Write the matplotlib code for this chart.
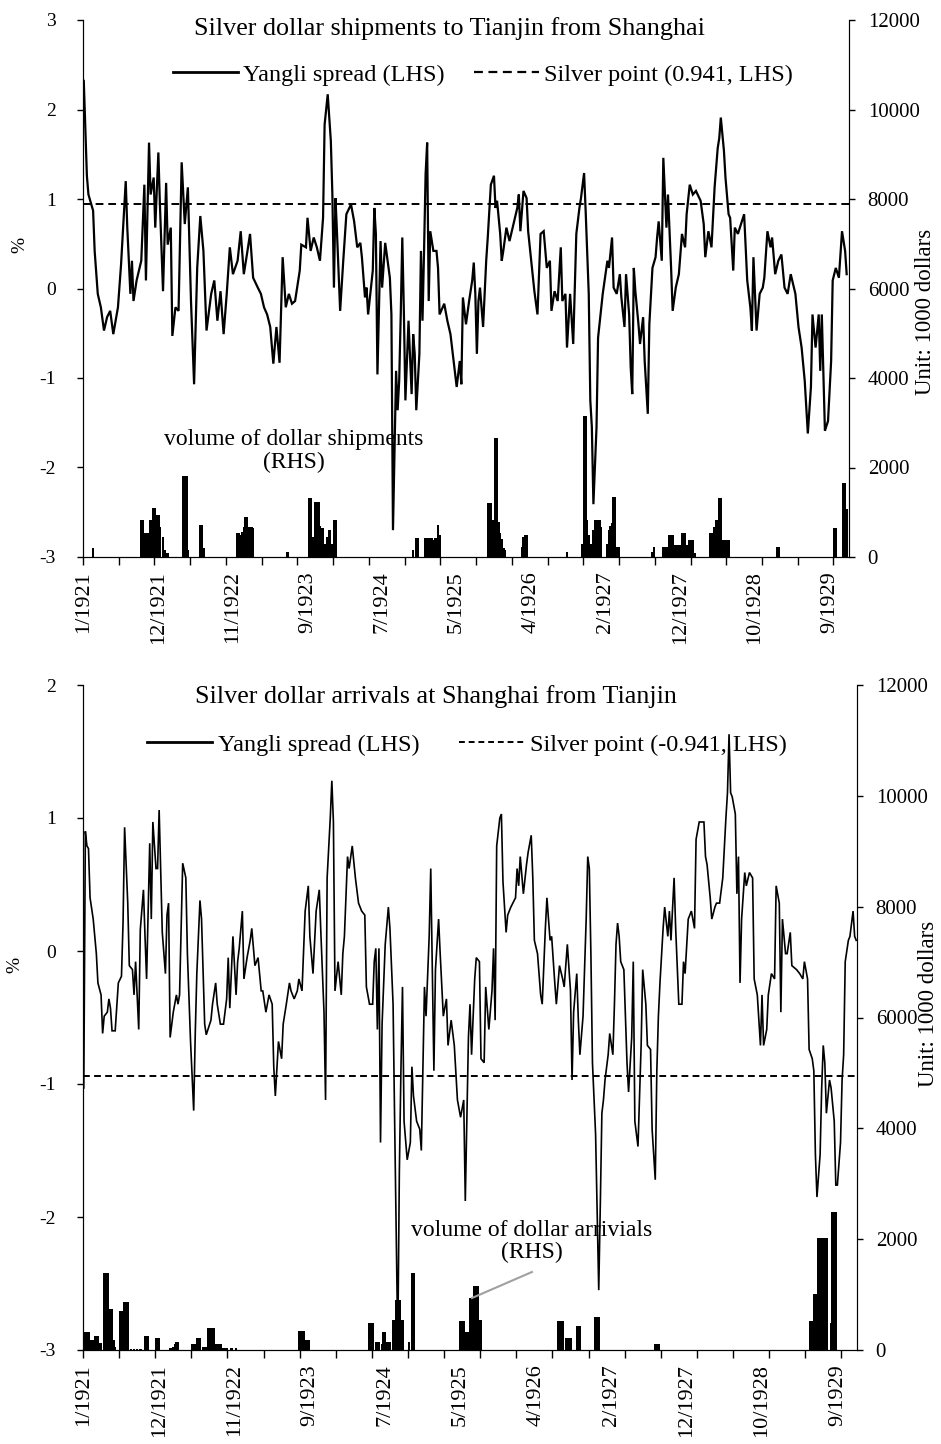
import matplotlib.pyplot as plt
from matplotlib.lines import Line2D

plt.rcParams['font.family'] = ['Liberation Serif', 'DejaVu Serif']
plt.rcParams['axes.unicode_minus'] = False

# x axis: 493 observations, a date label every 48, a tick mark every 23
n_obs = 493
label_step = 48
tick_step = 23
date_labels = ["1/1921", "12/1921", "11/1922", "9/1923", "7/1924", "5/1925",
               "4/1926", "2/1927", "12/1927", "10/1928", "9/1929"]

silver_point = 0.941

# top panel: Yangli spread (%), (observation, value)
ship_spread = [
    (0, 2.32), (2, 1.26), (3, 1.05), (6, 0.87), (7, 0.42), (9, -0.06), (11, -0.21), (13, -0.47),
    (15, -0.32), (17, -0.25), (19, -0.51), (22, -0.21), (24, 0.27), (27, 1.20), (28, 0.68),
    (30, -0.06), (31, 0.31), (32, -0.14), (34, 0.09), (37, 0.31), (39, 1.16), (40, 0.09),
    (42, 1.63), (43, 1.05), (45, 1.24), (46, 0.68), (48, 1.52), (49, 0.94), (51, -0.03),
    (53, 1.18), (54, 0.49), (56, 0.68), (57, -0.53), (59, -0.21), (61, -0.25), (63, 1.41),
    (65, 0.72), (67, 1.13), (69, -0.14), (71, -1.07), (73, 0.23), (75, 0.81), (77, 0.42),
    (79, -0.47), (82, -0.06), (84, 0.09), (86, -0.36), (88, -0.03), (90, -0.51), (92, -0.06),
    (94, 0.46), (96, 0.16), (99, 0.31), (101, 0.64), (103, 0.16), (105, 0.38), (107, 0.61),
    (109, 0.12), (112, 0.01), (114, -0.06), (116, -0.21), (118, -0.29), (120, -0.43),
    (122, -0.84), (124, -0.43), (126, -0.83), (128, 0.35), (130, -0.21), (132, -0.06),
    (134, -0.17), (136, -0.14), (139, 0.20), (140, 0.49), (143, 0.46), (144, 0.79), (146, 0.42),
    (148, 0.57), (150, 0.46), (152, 0.31), (154, 0.79), (155, 1.83), (157, 2.17), (159, 1.65),
    (160, 1.05), (161, 0.01), (162, 1.01), (163, 0.61), (165, -0.25), (167, 0.31), (169, 0.83),
    (172, 0.94), (174, 0.75), (176, 0.46), (178, 0.51), (179, 0.35), (181, -0.10), (182, 0.01),
    (183, -0.29), (186, 0.20), (187, 0.90), (188, 0.61), (189, -0.96), (191, 0.53), (192, 0.01),
    (194, 0.51), (195, 0.38), (197, 0.12), (198, -0.29), (199, -2.70), (201, -0.92),
    (202, -1.36), (203, -1.03), (204, -0.29), (205, 0.57), (206, -0.25), (207, -1.25),
    (209, -0.36), (211, -1.18), (212, -0.51), (213, -0.73), (214, -1.36), (216, -0.73),
    (217, 0.42), (218, -0.36), (219, 0.42), (220, 1.28), (221, 1.63), (222, -0.14), (223, 0.64),
    (225, 0.42), (227, 0.42), (228, 0.23), (229, -0.29), (232, -0.17), (234, -0.36),
    (236, -0.51), (238, -0.81), (240, -1.10), (242, -0.81), (243, -1.07), (244, -0.10),
    (246, -0.40), (248, -0.14), (250, 0.09), (251, 0.29), (252, -0.06), (253, -0.73),
    (254, -0.14), (255, 0.01), (257, -0.43), (258, -0.06), (259, 0.31), (260, 0.57), (262, 1.16),
    (264, 1.26), (265, 0.90), (266, 0.98), (268, 0.61), (269, 0.31), (270, 0.42), (272, 0.68),
    (274, 0.53), (277, 0.75), (279, 0.90), (280, 1.05), (281, 0.64), (283, 1.09), (285, 1.01),
    (286, 0.64), (288, 0.31), (290, -0.03), (292, -0.29), (294, 0.61), (296, 0.64), (298, 0.23),
    (300, 0.31), (301, -0.25), (303, -0.03), (305, -0.14), (307, 0.46), (308, -0.14),
    (310, -0.06), (311, -0.66), (313, -0.06), (315, -0.62), (317, 0.61), (319, 0.90), (320, 1.01),
    (322, 1.29), (323, 0.87), (325, -0.06), (326, -1.25), (327, -1.55), (328, -2.41),
    (330, -1.55), (331, -0.55), (334, -0.06), (337, 0.31), (338, 0.23), (340, 0.57), (341, 0.01),
    (343, -0.06), (345, 0.16), (346, -0.10), (348, -0.43), (349, 0.16), (351, -0.29),
    (352, -0.88), (353, -1.18), (354, 0.23), (355, -0.03), (357, -0.40), (358, -0.62),
    (360, -0.32), (361, -0.81), (363, -1.40), (364, -0.40), (366, 0.23), (368, 0.35), (369, 0.57),
    (370, 0.75), (372, 0.31), (373, 1.46), (375, 0.68), (376, 1.05), (378, 0.23), (379, -0.25),
    (381, 0.01), (383, 0.16), (385, 0.61), (387, 0.46), (388, 0.83), (390, 1.16), (392, 1.05),
    (394, 1.09), (397, 0.98), (399, 0.72), (400, 0.35), (402, 0.64), (404, 0.46), (406, 1.13),
    (408, 1.57), (409, 1.68), (410, 1.91), (412, 1.54), (413, 1.24), (415, 0.83), (416, 0.79),
    (418, 0.20), (419, 0.68), (421, 0.61), (423, 0.72), (425, 0.83), (427, 0.09), (429, -0.21),
    (430, -0.47), (431, 0.35), (433, -0.47), (435, -0.06), (437, 0.01), (438, 0.12), (440, 0.64),
    (442, 0.46), (443, 0.57), (445, 0.16), (447, 0.31), (449, 0.38), (451, 0.01), (453, -0.06),
    (455, 0.16), (458, -0.06), (460, -0.43), (462, -0.66), (464, -1.03), (466, -1.62),
    (468, -1.10), (469, -0.29), (471, -0.66), (473, -0.29), (474, -0.92), (475, -0.29),
    (477, -1.59), (479, -1.48), (481, -0.81), (482, 0.09), (484, 0.23), (486, 0.12), (488, 0.64),
    (490, 0.42), (491, 0.16),
]

# top panel: volume of dollar shipments (1000 dollars)
ship_volume = [
    (6, 200), (37, 830), (38, 830), (39, 530), (40, 530), (41, 530), (42, 530), (43, 830),
    (44, 830), (45, 1090), (46, 1090), (47, 940), (48, 940), (49, 680), (51, 450), (52, 150),
    (54, 80), (64, 1800), (65, 1800), (66, 1800), (67, 150), (75, 715), (76, 715), (77, 200),
    (99, 530), (100, 530), (101, 500), (102, 560), (103, 680), (104, 900), (105, 900),
    (106, 680), (107, 680), (108, 680), (109, 640), (131, 120), (145, 1310), (146, 1310),
    (147, 300), (148, 450), (149, 1240), (150, 1240), (151, 1240), (152, 700), (153, 640),
    (154, 640), (155, 300), (157, 450), (158, 600), (159, 300), (160, 300), (161, 830),
    (162, 830), (212, 160), (214, 420), (215, 420), (220, 420), (221, 420), (222, 420),
    (223, 420), (224, 420), (225, 380), (226, 420), (227, 420), (228, 715), (229, 500),
    (260, 1200), (261, 1200), (262, 1200), (263, 830), (264, 830), (265, 2650), (266, 2650),
    (267, 790), (268, 530), (269, 400), (270, 200), (271, 150), (282, 230), (283, 450),
    (284, 490), (285, 490), (311, 120), (321, 300), (322, 3140), (323, 3140), (324, 830),
    (325, 500), (326, 300), (327, 300), (328, 600), (329, 830), (330, 830), (331, 830),
    (332, 830), (333, 680), (337, 300), (338, 600), (339, 700), (340, 750), (341, 1350),
    (342, 1350), (343, 230), (344, 230), (366, 120), (367, 230), (373, 230), (375, 230),
    (377, 490), (378, 490), (379, 490), (380, 270), (381, 270), (382, 270), (383, 270),
    (384, 270), (385, 530), (386, 530), (387, 530), (388, 270), (390, 380), (391, 380),
    (392, 380), (393, 100), (403, 530), (404, 530), (405, 530), (406, 680), (407, 830),
    (408, 830), (409, 1310), (410, 1310), (411, 380), (412, 380), (413, 380), (414, 380),
    (415, 380), (446, 230), (447, 230), (483, 640), (484, 640), (489, 1650), (490, 1650),
    (491, 1070),
]

# bottom panel: Yangli spread (%)
arr_spread = [
    (0, -1.03), (1, 0.90), (2, 0.79), (3, 0.77), (4, 0.40), (6, 0.24), (8, -0.02), (9, -0.24),
    (11, -0.33), (12, -0.62), (13, -0.49), (15, -0.46), (16, -0.36), (17, -0.43), (18, -0.60),
    (20, -0.60), (22, -0.24), (24, -0.19), (25, 0.21), (26, 0.93), (28, 0.36), (29, -0.11),
    (31, -0.14), (32, -0.33), (33, -0.08), (35, -0.59), (36, 0.16), (38, 0.46), (39, 0.11),
    (40, -0.21), (42, 0.81), (43, 0.24), (44, 0.97), (46, 0.62), (47, 0.62), (48, 1.06),
    (50, 0.14), (52, -0.17), (53, 0.27), (54, 0.36), (55, -0.65), (57, -0.46), (59, -0.33),
    (60, -0.40), (61, -0.33), (63, 0.66), (65, 0.55), (66, -0.02), (68, -0.68), (70, -1.20),
    (71, -0.62), (72, -0.17), (74, 0.38), (75, 0.24), (77, -0.55), (78, -0.63), (81, -0.52),
    (82, -0.40), (84, -0.24), (85, -0.40), (87, -0.55), (89, -0.55), (91, -0.36), (92, -0.05),
    (93, -0.43), (95, 0.11), (97, -0.33), (98, -0.08), (99, 0.02), (101, 0.30), (102, -0.21),
    (104, -0.05), (106, 0.08), (107, 0.17), (109, -0.11), (111, -0.05), (113, -0.30),
    (114, -0.30), (116, -0.46), (118, -0.33), (120, -0.40), (121, -0.87), (122, -1.09),
    (124, -0.68), (126, -0.81), (127, -0.55), (129, -0.40), (131, -0.24), (132, -0.30),
    (134, -0.36), (136, -0.30), (137, -0.21), (139, -0.30), (141, 0.30), (143, 0.49),
    (144, 0.11), (146, -0.17), (148, 0.30), (150, 0.46), (151, 0.14), (153, -0.46), (154, -1.12),
    (155, 0.55), (157, 1.00), (158, 1.28), (159, 0.97), (160, -0.30), (162, -0.08), (164, -0.33),
    (165, -0.02), (166, 0.11), (168, 0.71), (169, 0.62), (171, 0.79), (173, 0.55), (175, 0.36),
    (177, 0.30), (179, 0.27), (180, -0.27), (182, -0.40), (184, -0.40), (185, -0.08), (186, 0.02),
    (187, -0.59), (188, 0.02), (189, -1.44), (190, -0.55), (192, 0.05), (194, 0.33), (195, 0.17),
    (197, -0.40), (198, -1.28), (200, -2.96), (201, -1.66), (202, -0.90), (203, -0.27),
    (204, -1.28), (206, -1.57), (208, -1.44), (209, -0.87), (210, -1.09), (212, -1.28),
    (214, -1.34), (215, -1.50), (217, -0.27), (218, -0.49), (220, 0.11), (221, 0.62),
    (223, -0.90), (224, -0.14), (226, 0.24), (227, -0.02), (229, -0.49), (231, -0.36),
    (232, -0.71), (234, -0.52), (236, -0.71), (238, -1.12), (240, -1.25), (242, -1.12),
    (243, -1.88), (245, -0.65), (246, -0.40), (247, -0.78), (249, -0.21), (250, -0.05),
    (252, -0.08), (253, -0.81), (255, -0.84), (256, -0.27), (258, -0.59), (260, -0.30),
    (261, 0.02), (262, -0.52), (263, 0.79), (265, 1.00), (266, 1.03), (267, 0.52), (269, 0.14),
    (270, 0.27), (272, 0.33), (275, 0.40), (276, 0.62), (277, 0.49), (278, 0.71), (280, 0.43),
    (282, 0.65), (283, 0.74), (285, 0.87), (286, 0.55), (287, 0.08), (289, -0.02), (291, -0.33),
    (292, -0.40), (294, 0.17), (295, 0.40), (297, 0.08), (298, 0.11), (300, -0.24), (301, -0.40),
    (303, -0.11), (305, -0.21), (306, -0.27), (308, 0.05), (310, -0.30), (311, -0.97),
    (312, -0.46), (314, -0.17), (315, -0.52), (316, -0.78), (318, -0.49), (320, 0.24),
    (321, 0.71), (322, 0.62), (323, -0.02), (324, -0.84), (326, -1.38), (328, -2.55),
    (329, -1.91), (330, -1.22), (331, -1.12), (332, -0.97), (334, -0.78), (335, -0.62),
    (337, -0.78), (338, -0.40), (339, 0.05), (340, 0.21), (341, 0.11), (342, -0.08), (344, -0.14),
    (346, -0.84), (347, -1.06), (349, -0.65), (350, -0.08), (351, -1.28), (353, -1.47),
    (355, -0.71), (356, -0.14), (358, -0.40), (359, -0.71), (361, -0.74), (362, -1.34),
    (364, -1.72), (365, -0.90), (366, -0.49), (367, -0.24), (369, 0.17), (370, 0.33), (372, 0.11),
    (373, 0.30), (374, 0.08), (376, 0.55), (377, 0.17), (379, -0.40), (381, -0.40), (382, -0.08),
    (383, -0.17), (385, 0.24), (386, 0.27), (387, 0.30), (389, 0.17), (390, 0.84), (392, 0.97),
    (394, 0.97), (395, 0.97), (396, 0.71), (397, 0.65), (399, 0.40), (400, 0.24), (402, 0.33),
    (403, 0.36), (405, 0.36), (407, 0.55), (409, 1.00), (410, 1.19), (411, 1.63), (412, 1.19),
    (413, 1.16), (415, 1.03), (416, 0.43), (417, 0.71), (418, -0.24), (419, 0.24), (421, 0.59),
    (422, 0.49), (424, 0.59), (426, 0.55), (427, -0.21), (429, -0.33), (431, -0.71), (432, -0.33),
    (433, -0.71), (435, -0.59), (436, -0.33), (438, -0.17), (440, -0.21), (441, 0.49), (443, 0.36),
    (444, -0.46), (445, 0.24), (447, -0.02), (448, -0.02), (450, 0.14), (451, -0.11), (454, -0.14),
    (456, -0.17), (458, -0.21), (459, -0.08), (461, -0.21), (462, -0.74), (464, -0.81),
    (465, -0.90), (466, -1.53), (467, -1.85), (469, -1.53), (470, -1.03), (471, -0.71),
    (472, -0.84), (473, -1.22), (475, -0.97), (476, -1.03), (478, -1.28), (479, -1.76),
    (480, -1.76), (482, -1.44), (483, -0.97), (484, -0.78), (485, -0.08), (487, 0.08), (488, 0.11),
    (490, 0.30), (491, 0.11), (492, 0.08),
]

# bottom panel: volume of dollar arrivals (1000 dollars)
arr_volume = [
    (0, 330), (1, 330), (2, 330), (3, 330), (4, 175), (5, 175), (6, 175), (7, 250), (8, 250),
    (9, 250), (10, 130), (11, 130), (13, 1390), (14, 1390), (15, 1390), (16, 740), (17, 740),
    (18, 740), (19, 175), (20, 60), (23, 705), (24, 705), (25, 705), (26, 860), (27, 860),
    (28, 860), (30, 25), (32, 25), (34, 25), (36, 25), (39, 250), (40, 250), (41, 250), (46, 210),
    (47, 210), (48, 210), (55, 40), (56, 40), (57, 60), (58, 100), (59, 140), (60, 140), (69, 100),
    (70, 100), (71, 100), (72, 210), (73, 210), (74, 210), (76, 60), (77, 60), (78, 60), (79, 400),
    (80, 400), (81, 400), (82, 400), (83, 400), (84, 100), (85, 100), (86, 100), (87, 100),
    (89, 40), (91, 40), (94, 40), (97, 40), (137, 350), (138, 350), (139, 350), (140, 350),
    (141, 175), (142, 175), (143, 175), (182, 480), (183, 480), (184, 480), (186, 140),
    (187, 140), (188, 140), (190, 100), (191, 330), (192, 330), (193, 140), (194, 140),
    (195, 140), (197, 550), (198, 550), (199, 900), (200, 900), (201, 900), (202, 550),
    (203, 550), (207, 140), (209, 1390), (210, 1390), (240, 520), (241, 520), (242, 520),
    (243, 330), (244, 330), (245, 330), (246, 930), (247, 930), (248, 930), (249, 1160),
    (250, 1160), (251, 1160), (252, 550), (253, 550), (302, 520), (303, 520), (304, 520),
    (305, 520), (307, 210), (308, 210), (309, 210), (310, 210), (314, 440), (315, 440),
    (316, 440), (326, 590), (327, 590), (328, 590), (364, 100), (365, 100), (366, 100),
    (463, 520), (464, 520), (465, 1010), (466, 1010), (467, 1010), (468, 2030), (469, 2030),
    (470, 2030), (471, 2030), (472, 2030), (473, 2030), (476, 480), (477, 2490), (478, 2490),
    (479, 2490),
]

fig = plt.figure(figsize=(9.41, 14.44), dpi=100)


def draw_panel(rect, spread, volume, level, ylo, yhi, line_w, dash):
    ax = fig.add_axes(rect)
    ax2 = ax.twinx()
    ax.set_zorder(ax2.get_zorder() + 1)
    ax.patch.set_visible(False)

    bx = [p[0] for p in volume]
    bv = [p[1] for p in volume]
    ax2.bar(bx, bv, width=1.6, color='black', linewidth=0)
    ax2.set_ylim(0, 12000)
    ax2.set_yticks(range(0, 12001, 2000))

    sx = [p[0] for p in spread]
    sy = [p[1] for p in spread]
    ax.plot(sx, sy, color='black', lw=line_w, solid_joinstyle='miter')
    ax.axhline(level, color='black', lw=1.4, dashes=dash)

    ax.set_xlim(-0.5, n_obs - 0.5)
    ax.set_ylim(ylo, yhi)
    ax.set_yticks(range(ylo, yhi + 1))
    ax.set_xticks(range(0, n_obs, label_step))
    ax.set_xticklabels(date_labels, rotation=90, fontsize=16)
    ax.set_xticks([k * tick_step - 0.5 for k in range(n_obs // tick_step + 1)], minor=True)
    ax.tick_params(axis='x', which='major', length=0, pad=10)
    ax.tick_params(axis='x', which='minor', length=6, width=1)
    ax.tick_params(axis='y', length=4.5, width=1, pad=15, labelsize=14)
    ax2.tick_params(axis='y', length=4.5, width=1, pad=9, labelsize=15)
    for a in (ax, ax2):
        a.spines['top'].set_visible(False)
    ax2.spines['right'].set_color('#444444')
    return ax, ax2


# ---- top panel: shipments to Tianjin from Shanghai
ax, ax2 = draw_panel([83 / 941, 1 - 557 / 1444, 766 / 941, 537 / 1444],
                     ship_spread, ship_volume, silver_point, -3, 3, 1.6, (4, 2.5))
ax.text(0.478, 0.985, "Silver dollar shipments to Tianjin from Shanghai",
        transform=ax.transAxes, ha='center', va='center', fontsize=18.8)
handles = [Line2D([], [], color='black', lw=2),
           Line2D([], [], color='black', lw=1.6, dashes=(4, 2.5))]
ax.legend(handles, ["Yangli spread (LHS)", "Silver point (0.941, LHS)"], ncol=2,
          loc='center', bbox_to_anchor=(0.522, 0.898), frameon=False, fontsize=17.5,
          handlelength=2.7, handletextpad=0.2, columnspacing=1.2)
ax.text(0.2755, 0.197, "volume of dollar shipments\n(RHS)", transform=ax.transAxes,
        ha='center', va='center', fontsize=17, linespacing=1.1)
ax.text(-0.082, 0.581, "%", transform=ax.transAxes, rotation=90,
        ha='center', va='center', fontsize=14)
ax2.text(1.1005, 0.456, "Unit: 1000 dollars", transform=ax2.transAxes, rotation=90,
         ha='center', va='center', fontsize=16.5)

# ---- bottom panel: arrivals at Shanghai from Tianjin
bx_, bx2 = draw_panel([83 / 941, 1 - 1350 / 1444, 774 / 941, 665 / 1444],
                      arr_spread, arr_volume, -silver_point, -3, 2, 1.2, (3.5, 2.2))
bx_.text(0.456, 0.982, "Silver dollar arrivals at Shanghai from Tianjin",
         transform=bx_.transAxes, ha='center', va='center', fontsize=18.8)
handles = [Line2D([], [], color='black', lw=2),
           Line2D([], [], color='black', lw=1.4, dashes=(3, 2))]
bx_.legend(handles, ["Yangli spread (LHS)", "Silver point (-0.941, LHS)"], ncol=2,
           loc='center', bbox_to_anchor=(0.496, 0.91), frameon=False, fontsize=17.5,
           handlelength=2.7, handletextpad=0.25, columnspacing=1.6)
bx_.text(0.580, 0.163, "volume of dollar arrivials\n(RHS)", transform=bx_.transAxes,
         ha='center', va='center', fontsize=17, linespacing=1.05)
bx_.plot([0.580, 0.5026], [0.1173, 0.0782], transform=bx_.transAxes, color='#a0a0a0',
         lw=1.5, clip_on=False)
bx_.text(-0.088, 0.579, "%", transform=bx_.transAxes, rotation=90,
         ha='center', va='center', fontsize=14)
bx2.text(1.093, 0.52, "Unit: 1000 dollars", transform=bx2.transAxes, rotation=90,
         ha='center', va='center', fontsize=16.5)

fig.savefig("out.png", dpi=100)
